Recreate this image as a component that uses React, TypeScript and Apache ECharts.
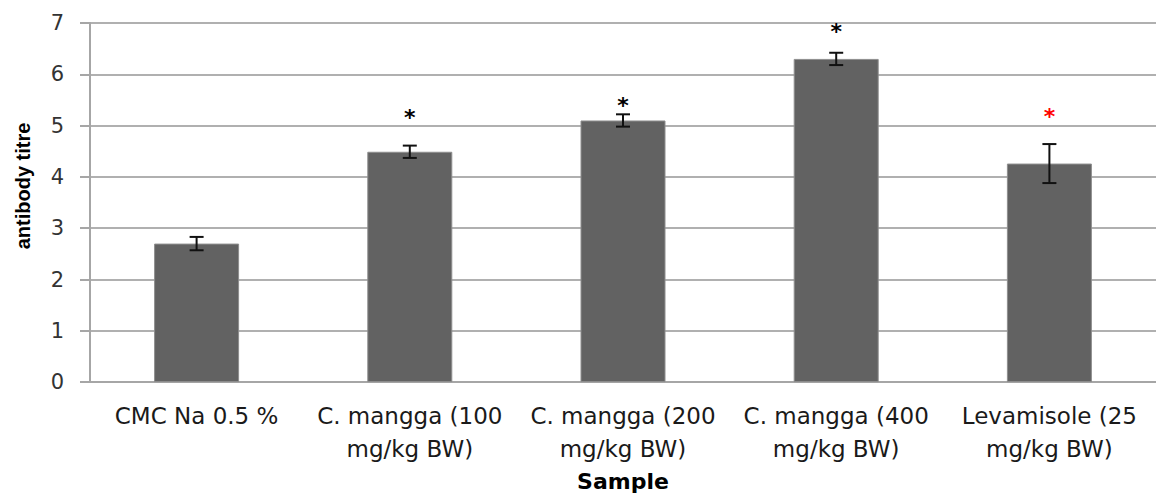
import React, { useEffect, useRef } from "react";
import * as echarts from "echarts";

const categories = [
  "CMC Na 0.5 %",
  "C. mangga (100\nmg/kg BW)",
  "C. mangga (200\nmg/kg BW)",
  "C. mangga (400\nmg/kg BW)",
  "Levamisole (25\nmg/kg BW)",
];
const titreMeans = [2.7, 4.49, 5.1, 6.3, 4.26];
const titreErrors = [0.13, 0.12, 0.12, 0.12, 0.38];
const starValues: (number | null)[] = [null, 5.21, 5.46, 6.9, 5.23];
const starColors = ["#000000", "#000000", "#000000", "#000000", "#ff0000"];
const yTicks = { min: 0, max: 7, interval: 1 };

export default function App() {
  const ref = useRef<HTMLDivElement>(null);
  useEffect(() => {
    if (!ref.current) return;
    const chart = echarts.init(ref.current, null, { renderer: "svg" });
    const errData = titreMeans.map((m, i) => [i, m - titreErrors[i], m + titreErrors[i]]);
    const starData = starValues
      .map((v, i) => (v == null ? null : [i, v]))
      .filter((d) => d !== null) as number[][];
    chart.setOption({
      animation: false,
      backgroundColor: "#ffffff",
      grid: { left: 90, top: 23, width: 1077, height: 364, containLabel: false },
      graphic: [
        {
          type: "text",
          x: 23,
          y: 186,
          rotation: Math.PI / 2,
          style: {
            text: "antibody titre",
            fontFamily: "Liberation Sans",
            fontWeight: "bold",
            fontSize: 20,
            fill: "#000",
            align: "center",
            verticalAlign: "middle",
          },
        },
      ],
      xAxis: {
        type: "category",
        data: categories,
        name: "Sample",
        nameLocation: "middle",
        nameGap: 86,
        nameTextStyle: {
          fontFamily: "DejaVu Sans",
          fontWeight: "bold",
          fontSize: 22,
          color: "#000",
        },
        axisLine: { lineStyle: { color: "#a6a6a6", width: 2 } },
        axisTick: { show: false },
        axisLabel: {
          fontFamily: "DejaVu Sans",
          fontSize: 23,
          lineHeight: 33,
          color: "#1a1a1a",
          margin: 17,
          interval: 0,
        },
      },
      yAxis: {
        type: "value",
        min: yTicks.min,
        max: yTicks.max,
        interval: yTicks.interval,
        axisLine: { show: true, lineStyle: { color: "#a6a6a6", width: 2 } },
        axisTick: { show: true, length: 10, lineStyle: { color: "#a6a6a6", width: 2 } },
        axisLabel: {
          fontFamily: "DejaVu Sans",
          fontSize: 21,
          color: "#333",
          margin: 26,
        },
        splitLine: { lineStyle: { color: "#b0b0b0", width: 2 } },
      },
      series: [
        {
          type: "bar",
          data: titreMeans,
          barWidth: 85,
          itemStyle: { color: "#626262", borderColor: "#8e8e8e", borderWidth: 1 },
          z: 2,
        },
        {
          type: "custom",
          data: errData,
          z: 5,
          renderItem: (params: any, api: any) => {
            const i = api.value(0);
            const lo = api.coord([i, api.value(1)]);
            const hi = api.coord([i, api.value(2)]);
            const x = lo[0];
            const hw = 7;
            const style = { stroke: "#111", lineWidth: 2 };
            return {
              type: "group",
              children: [
                { type: "line", shape: { x1: x, y1: lo[1], x2: x, y2: hi[1] }, style },
                { type: "line", shape: { x1: x - hw, y1: lo[1], x2: x + hw, y2: lo[1] }, style },
                { type: "line", shape: { x1: x - hw, y1: hi[1], x2: x + hw, y2: hi[1] }, style },
              ],
            };
          },
        },
        {
          type: "custom",
          data: starData,
          z: 6,
          renderItem: (params: any, api: any) => {
            const i = api.value(0);
            const p = api.coord([i, api.value(1)]);
            return {
              type: "text",
              x: p[0],
              y: p[1] + 3,
              style: {
                text: "*",
                fill: starColors[i],
                fontFamily: "DejaVu Sans",
                fontWeight: "bold",
                fontSize: 22,
                align: "center",
                verticalAlign: "middle",
              },
            };
          },
        },
      ],
    });
    return () => chart.dispose();
  }, []);
  return (
    <div
      ref={ref}
      style={{ position: "fixed", left: 0, top: 0, width: 1156, height: 497, background: "#fff" }}
    />
  );
}
